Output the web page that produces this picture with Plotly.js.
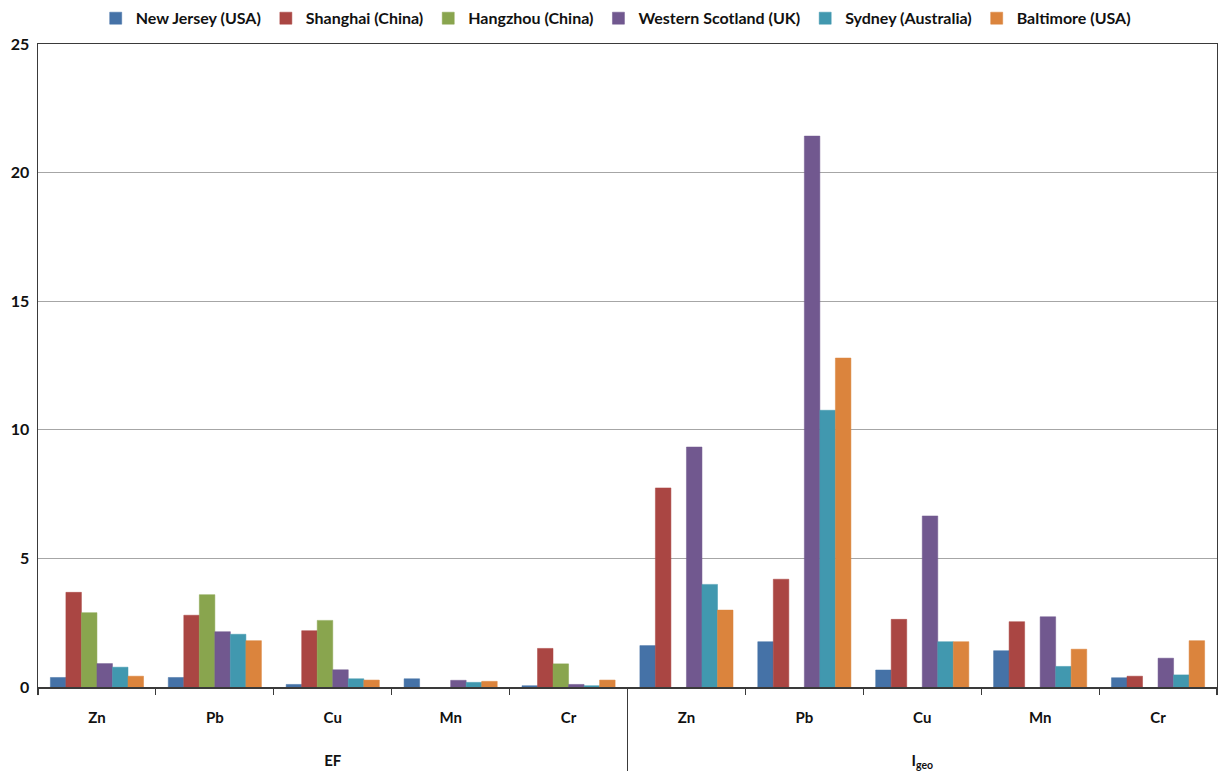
<!DOCTYPE html>
<html>
<head>
<meta charset="utf-8">
<script src="https://cdn.plot.ly/plotly-3.0.1.min.js"></script>
<style>
  html, body { margin: 0; padding: 0; background: #fff; }
  #chart { width: 1218px; height: 771px; }
</style>
</head>
<body>
<div id="chart"></div>
<script>
// Outer groups and inner categories
const groupNames = ['EF', 'EF', 'EF', 'EF', 'EF',
  'I<sub>geo</sub>', 'I<sub>geo</sub>', 'I<sub>geo</sub>', 'I<sub>geo</sub>', 'I<sub>geo</sub>'];
// blank lines above the outer labels push them below the inner labels
const groups = groupNames.map(g => '&nbsp;<br>&nbsp;<br>' + g);
const metals = ['Zn', 'Pb', 'Cu', 'Mn', 'Cr', 'Zn', 'Pb', 'Cu', 'Mn', 'Cr'];

// Series values (EF Zn, Pb, Cu, Mn, Cr, Igeo Zn, Pb, Cu, Mn, Cr)
const newJersey     = [0.37, 0.37, 0.10, 0.32, 0.05, 1.61, 1.76, 0.66, 1.41, 0.36];
const shanghai      = [3.68, 2.79, 2.19, null, 1.50, 7.74, 4.19, 2.63, 2.54, 0.42];
const hangzhou      = [2.89, 3.59, 2.59, null, 0.90, null, null, null, null, null];
const westScotland  = [0.91, 2.15, 0.67, 0.26, 0.10, 9.33, 21.42, 6.65, 2.73, 1.12];
const sydney        = [0.77, 2.05, 0.32, 0.18, 0.05, 3.99, 10.76, 1.76, 0.80, 0.47];
const baltimore     = [0.42, 1.80, 0.27, 0.22, 0.27, 2.99, 12.79, 1.76, 1.47, 1.80];

const seriesNames = ['New Jersey (USA)', 'Shanghai (China)', 'Hangzhou (China)',
  'Western Scotland (UK)', 'Sydney (Australia)', 'Baltimore (USA)'];
const seriesValues = [newJersey, shanghai, hangzhou, westScotland, sydney, baltimore];
const colors = ['#4572A7', '#AA4643', '#89A54E', '#71588F', '#4198AF', '#DB843D'];

const traces = seriesNames.map((name, i) => ({
  type: 'bar',
  name: name,
  x: [groups, metals],
  y: seriesValues[i],
  marker: { color: colors[i], line: { color: colors[i], width: 0.5 } },
  hoverinfo: 'name+y'
}));

const fam = 'Lato, "Open Sans", "DejaVu Sans", sans-serif';

// white masks hiding the outer-edge divider lines below the axis (decoration only)
const edgeMask = (xp) => ({
  type: 'line', xref: 'paper', yref: 'paper', layer: 'above',
  x0: xp, x1: xp, y0: -0.0125, y1: -0.14,
  line: { color: '#ffffff', width: 4 }
});

const layout = {
  width: 1218,
  height: 771,
  margin: { l: 38, r: 1, t: 44, b: 84 },
  paper_bgcolor: '#fff',
  plot_bgcolor: '#fff',
  font: { family: fam, size: 14, color: '#111' },
  barmode: 'group',
  bargap: 0.21,
  bargroupgap: 0,
  showlegend: true,
  legend: {
    orientation: 'h',
    x: 0.49, xanchor: 'center',
    y: 1.040, yanchor: 'middle',
    bgcolor: 'rgba(0,0,0,0)',
    font: { family: fam, size: 16, color: '#111', weight: 'bold' },
    itemwidth: 30
  },
  shapes: [edgeMask(0), edgeMask(1)],
  xaxis: {
    type: 'multicategory',
    showline: true,
    linecolor: '#3a3a3a',
    linewidth: 1.5,
    mirror: true,
    ticks: 'outside',
    tickson: 'boundaries',
    ticklen: 6,
    tickcolor: '#3a3a3a',
    showdividers: true,
    dividercolor: '#3a3a3a',
    dividerwidth: 1.2,
    ticklabelstandoff: 16,
    tickfont: { family: fam, size: 15, color: '#111', weight: 'bold' },
    showgrid: false,
    zeroline: false
  },
  yaxis: {
    range: [0, 25],
    dtick: 5,
    tick0: 0,
    showline: true,
    linecolor: '#3a3a3a',
    linewidth: 1.5,
    mirror: true,
    ticks: '',
    showgrid: true,
    gridcolor: '#a6a6a6',
    gridwidth: 1,
    zeroline: false,
    tickfont: { family: fam, size: 16, color: '#111', weight: 'bold' },
    ticklabelstandoff: 4
  }
};

Plotly.newPlot('chart', traces, layout, { displayModeBar: false, staticPlot: true });
</script>
</body>
</html>
